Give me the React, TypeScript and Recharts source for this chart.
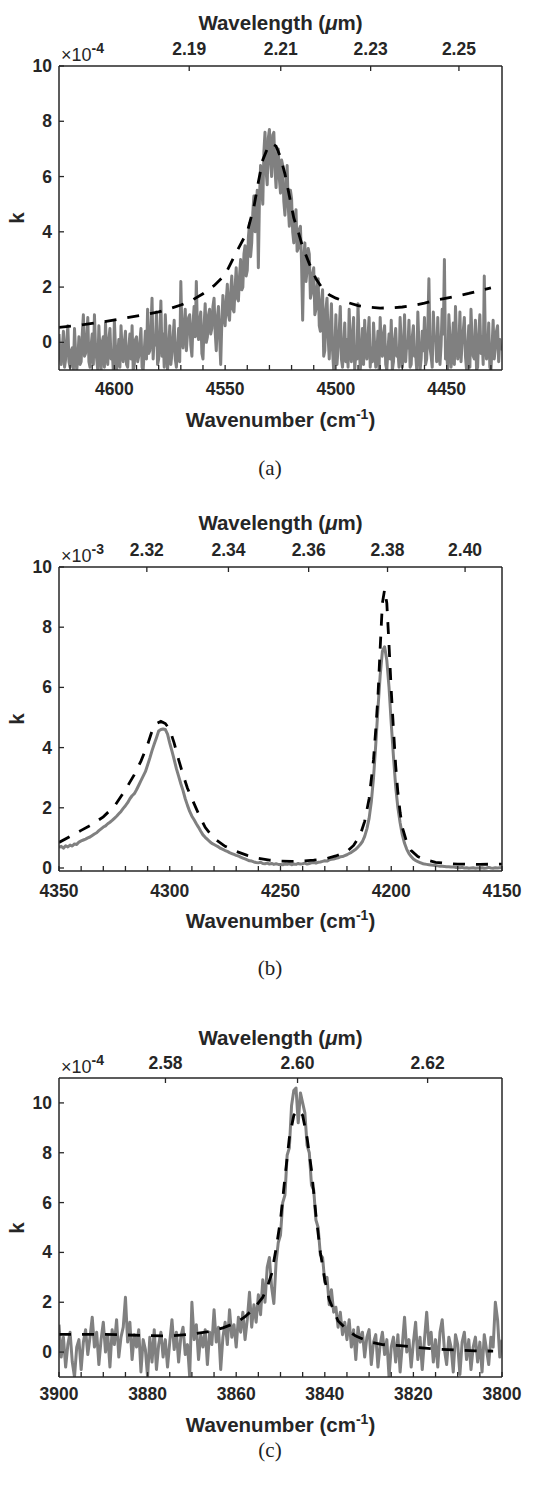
import React from 'react';
import { LineChart, Line, XAxis, YAxis } from 'recharts';

const INK = '#262626';
const GREY = '#808080';
const SANS = '"Liberation Sans", Arial, Helvetica, sans-serif';
const SERIF = '"Liberation Serif", "DejaVu Serif", serif';

// ---------- panel (a): k x 1e-4, measured every 0.5 cm-1 from 4625 down to 4425.5
const aStart = 4625;
const aStep = -0.5;
const aMeasured = [
  // 4625 - 4585.5
  0.3, -0.5, -0.8, -0.2, 0.4, -0.9, -0.6, 0.1, 0.6, -0.7, -0.9, -0.3, -0.2, -1.0, 0.5, -0.4, -1.0, -0.6, 0.2, -0.8,
  -0.7, 0.3, 1.0, -0.5, -0.4, 0.2, 0.9, -0.7, -0.9, -0.1, 0.3, -0.8, 1.0, -0.2, -0.6, -1.0, 0.6, -0.3, -1.0, 0.0,
  0.2, -0.9, 0.7, -0.4, -0.8, 0.1, 0.5, -0.6, -0.3, -1.0, 0.8, -0.2, -1.0, -0.5, 0.1, -0.9, 0.6, -0.3, -0.7, 0.0,
  0.4, -0.8, -0.9, -0.2, 0.3, -0.6, 0.6, -1.0, -0.8, 0.1, 0.2, -0.7, -0.5, 0.0, 0.5, -0.9, -1.0, -0.3, 0.4, -0.6,
  // 4585 - 4572.5
  1.2, -0.4, -0.3, 0.5, 1.6, -0.6, 0.2, -0.1, 1.1, -0.8, -0.6, 0.3, 1.5, -0.5, 0.3, -0.9, 1.0, 0.0, -1.0, -0.4,
  0.6, -0.8, -0.4, 0.2, 0.8, -0.6,
  // 4572 - 4544.5
  -0.9, -0.2, 0.5, -0.7, 2.2, 0.4, -0.2, 0.6, 1.2, -0.3, 0.3, 0.9, 1.0, -0.1, -0.5, 0.7, 1.3, 0.2, 2.2, 0.5,
  0.1, 0.8, 1.1, -0.4, -0.6, 0.6, 1.4, 0.0, 0.2, 1.0, 1.2, 0.3, 0.5, 1.3, 1.6, 0.4, -0.3, 0.9, 1.3, 0.2,
  -0.8, 0.7, 1.7, 0.9, 0.6, 1.5, 2.1, 1.0, 0.8, 1.8, 2.4, 1.2, 1.1, 2.0, 2.7, 1.6,
  // 4544 - 4535.5
  1.5, 2.4, 3.0, 1.9, 2.0, 3.2, 3.5, 2.4, 2.6, 3.8, 4.3, 3.1, 3.6, 4.7, 5.3, 4.0, 4.6, 5.5,
  // 4535 - 4523.5
  2.7, 5.2, 6.4, 5.6, 5.0, 6.9, 7.6, 6.2, 5.7, 7.4, 7.7, 6.5, 6.0, 7.5, 7.6, 6.3, 5.6, 6.8, 7.0, 5.9,
  5.4, 6.6, 6.4, 5.1,
  // 4523 - 4504.5
  4.6, 5.6, 6.4, 4.9, 4.2, 5.5, 5.2, 4.0, 3.6, 4.5, 4.8, 3.3, 3.4, 4.1, 4.2, 2.9, 0.8, 3.0, 3.6, 2.2,
  2.6, 3.4, 3.2, 1.6, 1.8, 2.5, 2.7, 1.0, 1.2, 2.0, 2.3, 0.6, 0.4, 1.5, 1.9, -0.5, -0.3, 1.2,
  // 4504 - 4425.5
  1.6, 0.2, -0.6, 0.5, 1.4, -0.3, -1.0, -0.4, 1.0, -0.8, -0.2, 0.4, 1.3, -0.6, -0.9, -0.1, 0.7, -0.7, 0.1, -0.9,
  1.2, -0.2, -0.7, 0.3, 0.9, -1.0, -0.4, -0.6, 1.4, 0.0, -1.0, -0.5, 0.5, -0.8, 0.8, -0.3, -0.6, 0.2, 0.9, -0.9,
  -0.2, -0.7, 0.7, -0.1, -0.9, -0.4, 0.4, -1.0, 0.9, -0.2, -0.5, 0.3, 0.6, -0.8, -1.0, -0.3, 0.3, -0.6, 0.8, -1.0,
  -0.7, 0.1, 0.5, -0.5, -0.3, -0.9, 0.9, 0.0, -0.9, -0.4, 1.0, -0.7, 0.0, -0.2, 0.8, -0.9, -0.8, 0.2, 0.6, -0.5,
  -0.4, -1.0, 1.1, -0.1, -1.0, -0.6, 0.4, -0.3, 0.9, -0.8, -0.6, 0.5, 2.3, -0.2, -0.5, -0.9, 1.1, 0.1, 0.2, -0.7,
  0.9, -0.4, -0.8, -0.1, 1.2, 0.3, 3.0, -0.6, -0.3, -1.0, 1.0, 0.2, -0.9, -0.4, 0.7, -0.8, 1.3, 0.0, -0.6, -0.3,
  1.1, -0.7, 0.0, 0.4, 0.9, -0.5, -1.0, -0.2, 0.6, -0.9, 1.2, 0.1, -0.5, -0.6, 0.8, -1.0, -0.9, 0.3, 1.0, -0.4,
  0.2, -0.8, 2.4, 0.0, -0.6, -0.3, 0.7, -0.9, -1.0, -0.2, 0.8, -0.6, -0.2, 0.4, 0.6, -0.7, 0.1, -0.3,
];
const aFitWave = [
  4625, 4615, 4605, 4595, 4585, 4580, 4575, 4570, 4565, 4560, 4555, 4550, 4545, 4540, 4537, 4535, 4533, 4531,
  4529, 4527, 4525, 4523, 4521, 4519, 4517, 4515, 4512, 4509, 4506, 4503, 4500, 4495, 4490, 4485, 4480, 4475,
  4470, 4465, 4460, 4455, 4450, 4445, 4440, 4435, 4430,
];
const aFitK = [
  0.54, 0.63, 0.74, 0.88, 1.02, 1.1, 1.22, 1.35, 1.52, 1.76, 2.05, 2.45, 3.25, 4.0, 4.9, 5.8, 6.6, 7.0,
  7.2, 7.1, 6.7, 6.1, 5.3, 4.5, 4.0, 3.45, 2.85, 2.3, 1.95, 1.72, 1.6, 1.45, 1.33, 1.27, 1.24, 1.25,
  1.28, 1.34, 1.42, 1.52, 1.6, 1.68, 1.77, 1.87, 1.97,
];
const aMajor = [4450, 4500, 4550, 4600];
const aMinor = [4430, 4440, 4460, 4470, 4480, 4490, 4510, 4520, 4530, 4540, 4560, 4570, 4580, 4590, 4610, 4620];
const aWavelength = [2.19, 2.21, 2.23, 2.25];

// ---------- panel (b): k x 1e-3, measured every 1 cm-1 from 4350 down to 4150
const bStart = 4350;
const bStep = -1;
const bMeasured = [
  0.68, 0.72, 0.66, 0.74, 0.70, 0.76, 0.73, 0.80, 0.78, 0.86,
  0.90, 0.93, 0.96, 1.00, 1.03, 1.08, 1.13, 1.17, 1.24, 1.30,
  1.36, 1.40, 1.47, 1.52, 1.58, 1.65, 1.72, 1.80, 1.88, 1.98,
  2.07, 2.17, 2.30, 2.40, 2.47, 2.60, 2.75, 2.90, 3.05, 3.20,
  3.42, 3.65, 3.90, 4.12, 4.33, 4.55, 4.60, 4.62, 4.60, 4.45,
  4.15, 3.88, 3.60, 3.30, 3.05, 2.80, 2.57, 2.30, 2.08, 1.88,
  1.72, 1.60, 1.47, 1.35, 1.22, 1.10, 1.02, 0.95, 0.88, 0.82,
  0.78, 0.74, 0.70, 0.65, 0.62, 0.58, 0.55, 0.51, 0.48, 0.45,
  0.42, 0.40, 0.36, 0.33, 0.30, 0.27, 0.24, 0.23, 0.20, 0.18,
  0.17, 0.19, 0.15, 0.14, 0.16, 0.13, 0.15, 0.12, 0.14, 0.12,
  0.12, 0.11, 0.13, 0.12, 0.14, 0.11, 0.13, 0.12, 0.15, 0.13,
  0.14, 0.16, 0.13, 0.15, 0.17, 0.18, 0.16, 0.19, 0.20, 0.22,
  0.24, 0.23, 0.27, 0.29, 0.30, 0.32, 0.34, 0.37, 0.38, 0.41,
  0.44, 0.48, 0.52, 0.57, 0.62, 0.70, 0.78, 0.88, 1.05, 1.30,
  1.65, 2.20, 3.00, 4.10, 5.30, 6.40, 7.20, 7.35, 6.90, 6.00,
  4.80, 3.70, 2.70, 2.00, 1.50, 1.10, 0.82, 0.62, 0.48, 0.38,
  0.30, 0.25, 0.21, 0.18, 0.15, 0.13, 0.12, 0.11, 0.10, 0.09,
  0.08, 0.07, 0.06, 0.06, 0.05, 0.04, 0.04, 0.03, 0.03, 0.02,
  0.02, 0.01, 0.02, 0.00, 0.01, -0.01, 0.00, 0.01, -0.01, 0.00,
  0.00, 0.01, -0.01, 0.00, 0.02, 0.00, -0.01, 0.01, 0.00, 0.01,
  0.02,
];
const bFitWave = [
  4350, 4345, 4340, 4335, 4330, 4325, 4320, 4316, 4313, 4310, 4308, 4306, 4304, 4302, 4300, 4298, 4296, 4294,
  4292, 4290, 4287, 4284, 4280, 4275, 4270, 4265, 4260, 4255, 4250, 4245, 4240, 4235, 4230, 4225, 4220, 4217,
  4214, 4212, 4210, 4208, 4207, 4206, 4205, 4204, 4203, 4202, 4201, 4200, 4199, 4198, 4197, 4196, 4195, 4193,
  4191, 4188, 4185, 4180, 4175, 4170, 4160, 4150,
];
const bFitK = [
  0.85, 1.05, 1.25, 1.45, 1.7, 2.05, 2.6, 3.1, 3.55, 4.1, 4.55, 4.8, 4.87, 4.8, 4.6, 4.15, 3.6, 3.1,
  2.65, 2.3, 1.8, 1.35, 0.98, 0.72, 0.55, 0.42, 0.32, 0.26, 0.23, 0.22, 0.23, 0.26, 0.3, 0.4, 0.55, 0.75,
  1.1, 1.55, 2.3, 3.6, 4.6, 5.7, 7.3, 8.8, 9.25, 8.8, 7.4, 5.9, 4.6, 3.4, 2.5, 1.85, 1.35, 0.85,
  0.58, 0.38, 0.28, 0.19, 0.15, 0.13, 0.12, 0.13,
];
const bMajor = [4150, 4200, 4250, 4300, 4350];
const bMinor = [4160, 4170, 4180, 4190, 4210, 4220, 4230, 4240, 4260, 4270, 4280, 4290, 4310, 4320, 4330, 4340];
const bWavelength = [2.32, 2.34, 2.36, 2.38, 2.4];

// ---------- panel (c): k x 1e-4, measured every 0.5 cm-1 from 3900 down to 3800
const cStart = 3900;
const cStep = -0.5;
const cMeasured = [
  1.1, -0.2, 0.6, -0.6, 0.3, 0.8, -0.4, -1.0, 0.2, 0.5,
  -0.7, 0.4, 0.9, -0.1, 0.6, 1.4, 0.2, 0.8, -0.5, 0.5,
  1.2, 0.0, 0.7, -0.6, 0.9, 0.3, 1.3, -0.2, 0.6, 1.0,
  2.2, 0.4, 1.2, -0.3, 0.7, 0.2, 0.9, -0.8, 0.5, 0.1,
  -1.0, 0.6, -0.4, 0.9, -0.7, 0.3, 0.8, -0.2, 0.5, -0.6,
  0.4, 1.3, 0.1, 0.8, -0.4, 0.6, 1.0, -0.1, 0.3, -1.0,
  2.0, 0.5, 1.1, -0.3, 0.7, 0.2, 0.9, -0.5, 0.8, 0.3,
  1.7, 0.4, 1.0, -0.7, 0.6, 1.2, 0.3, 1.7, 0.6, 1.1,
  0.2, 1.4, 0.8, 1.6, 0.5, 1.3, 2.4, 1.0, 1.9, 1.2,
  2.3, 1.5, 2.9, 2.0, 3.4, 3.8, 2.6, 1.95, 3.6, 4.4,
  4.7, 6.0, 6.3, 7.9, 8.2, 9.9, 10.5, 10.6, 9.2, 10.4,
  10.0, 9.6, 8.3, 8.0, 6.7, 6.5, 5.3, 5.0, 3.9, 3.8,
  2.8, 3.0, 1.9, 2.5, 1.6, 1.8, 1.0, 1.6, 0.7, 1.2,
  0.5, 1.3, 0.2, 0.9, -0.3, 1.0, 0.4, 0.8, -0.2, 0.6,
  0.9, -0.5, 0.4, 0.7, -0.6, 0.3, 0.8, -0.1, 0.5, -1.0,
  0.2, 0.6, -0.4, 0.7, -0.8, 0.3, 1.4, 0.0, 0.5, -0.6,
  0.4, 1.2, -0.3, 0.6, -0.7, 0.5, 1.6, 0.3, 0.8, -0.4,
  0.5, -0.6, 0.8, 1.3, 0.1, -0.5, 0.6, 0.2, -0.8, 0.7,
  0.3, -0.9, 0.4, 0.8, -0.3, 0.5, -0.7, 0.2, 0.6, -0.4,
  0.4, -0.8, 0.7, 0.1, -0.5, 0.6, 0.2, 2.0, 1.3, -0.2,
  0.5,
];
const cFitWave = [
  3900, 3895, 3890, 3885, 3880, 3875, 3870, 3866, 3863, 3860, 3858, 3856, 3854, 3853, 3852, 3851, 3850, 3849,
  3848, 3847, 3846, 3845, 3844, 3843, 3842, 3841, 3840, 3839, 3837, 3835, 3833, 3830, 3827, 3823, 3819, 3815,
  3810, 3806, 3802,
];
const cFitK = [
  0.71, 0.71, 0.71, 0.69, 0.66, 0.65, 0.72, 0.83, 0.97, 1.18, 1.42, 1.75, 2.2, 2.6, 3.15, 4.15, 5.3, 7.0,
  8.6, 9.5, 9.73, 9.5, 8.6, 7.3, 5.5, 4.0, 2.9, 2.1, 1.25, 0.9, 0.64, 0.42, 0.3, 0.26, 0.18, 0.12,
  0.08, 0.05, 0.04,
];
const cMajor = [3800, 3820, 3840, 3860, 3880, 3900];
const cMinor = [3805, 3810, 3815, 3825, 3830, 3835, 3845, 3850, 3855, 3865, 3870, 3875, 3885, 3890, 3895];
const cWavelength = [2.58, 2.6, 2.62];

const kTicks = [0, 2, 4, 6, 8, 10];

type Pt = { x: number; k: number };
const sampled = (start: number, step: number, values: number[]): Pt[] =>
  values.map((k, i) => ({ x: +(start + i * step).toFixed(2), k }));
const paired = (xs: number[], ks: number[]): Pt[] => xs.map((x, i) => ({ x, k: ks[i] }));

const W = 537;
const LEFT = 59;
const RIGHT = 502;
const TOP_M = 66;
const BOT_M = 80;
const TICK = 5;

const tickText = {
  fontFamily: SANS,
  fontWeight: 700,
  fontSize: 17.5,
  fill: INK,
} as const;

const BottomTick = ({ x, y, payload, major, gap }: any) => {
  const isMajor = major.includes(payload.value);
  return (
    <g>
      <line x1={x} x2={x} y1={y} y2={y - TICK} stroke={INK} strokeWidth={1.3} />
      {isMajor && (
        <text x={x} y={y + gap} textAnchor="middle" dominantBaseline="central" {...tickText}>
          {payload.value}
        </text>
      )}
    </g>
  );
};

const TopTick = ({ x, y, payload, gap }: any) => (
  <g>
    <line x1={x} x2={x} y1={y} y2={y + TICK} stroke={INK} strokeWidth={1.3} />
    <text x={x} y={y - gap} textAnchor="middle" dominantBaseline="central" {...tickText}>
      {(10000 / payload.value).toFixed(2)}
    </text>
  </g>
);

const LeftTick = ({ x, y, payload }: any) => (
  <g>
    <line x1={x} x2={x + TICK} y1={y} y2={y} stroke={INK} strokeWidth={1.3} />
    <text x={x - 7} y={y} textAnchor="end" dominantBaseline="central" {...tickText}>
      {payload.value}
    </text>
  </g>
);

type PanelProps = {
  plotTop: number;
  plotHeight: number;
  xDomain: [number, number];
  yDomain: [number, number];
  major: number[];
  minor: number[];
  wavelength: number[];
  exponent: string;
  measured: Pt[];
  fit: Pt[];
  caption: string;
  topGap: number;
  bottomGap: number;
  titleGap: number;
  xTitleGap: number;
  captionGap: number;
};

const centered = (x: number, y: number): React.CSSProperties => ({
  position: 'absolute',
  left: x,
  top: y,
  transform: 'translate(-50%, -50%)',
  whiteSpace: 'nowrap',
  lineHeight: 1,
  color: INK,
});

function Panel(p: PanelProps) {
  const h = TOP_M + p.plotHeight + BOT_M;
  const plotBottom = p.plotTop + p.plotHeight;
  const mid = (LEFT + RIGHT) / 2;
  const bottomTicks = [...p.major, ...p.minor].sort((a, b) => a - b);
  const topTicks = p.wavelength.map((l) => 10000 / l);
  const axisLine = { stroke: INK, strokeWidth: 1.5 };
  const title = { fontFamily: SANS, fontWeight: 700, fontSize: 20.5 };

  return (
    <>
      <div style={{ position: 'absolute', left: 0, top: p.plotTop - TOP_M }}>
        <LineChart width={W} height={h} margin={{ top: TOP_M - 30, right: W - RIGHT - 1, bottom: BOT_M - 30, left: 0 }}>
          <XAxis
            xAxisId="b"
            dataKey="x"
            type="number"
            domain={p.xDomain}
            reversed
            allowDataOverflow
            ticks={bottomTicks}
            interval={0}
            height={30}
            tickSize={0}
            tickMargin={0}
            tickLine={false}
            axisLine={axisLine}
            tick={(t: any) => <BottomTick {...t} major={p.major} gap={p.bottomGap} />}
          />
          <XAxis
            xAxisId="t"
            orientation="top"
            dataKey="x"
            type="number"
            domain={p.xDomain}
            reversed
            allowDataOverflow
            ticks={topTicks}
            interval={0}
            height={30}
            tickSize={0}
            tickMargin={0}
            tickLine={false}
            axisLine={axisLine}
            tick={(t: any) => <TopTick {...t} gap={p.topGap} />}
          />
          <YAxis
            yAxisId="l"
            type="number"
            domain={p.yDomain}
            allowDataOverflow
            ticks={kTicks}
            interval={0}
            width={LEFT}
            tickSize={0}
            tickMargin={0}
            tickLine={false}
            axisLine={axisLine}
            tick={(t: any) => <LeftTick {...t} />}
          />
          <YAxis
            yAxisId="r"
            orientation="right"
            type="number"
            domain={p.yDomain}
            allowDataOverflow
            width={1}
            tick={false}
            tickLine={false}
            axisLine={axisLine}
          />
          <Line
            xAxisId="b"
            yAxisId="l"
            data={p.measured}
            dataKey="k"
            stroke={GREY}
            strokeWidth={3}
            strokeLinejoin="round"
            dot={false}
            isAnimationActive={false}
          />
          <Line
            xAxisId="b"
            yAxisId="l"
            data={p.fit}
            dataKey="k"
            stroke="#000"
            strokeWidth={2.8}
            strokeDasharray="12 11"
            dot={false}
            isAnimationActive={false}
          />
        </LineChart>
      </div>

      <div style={{ ...centered(mid, p.plotTop - p.titleGap), ...title }}>
        Wavelength (<span style={{ fontStyle: 'italic' }}>μ</span>m)
      </div>
      <div
        style={{
          position: 'absolute',
          left: 61,
          top: p.plotTop - 20,
          lineHeight: 1,
          color: INK,
          fontFamily: SANS,
          fontSize: 18,
          whiteSpace: 'nowrap',
        }}
      >
        ×10
        <span style={{ fontSize: 14, fontWeight: 700, position: 'relative', top: -8 }}>{p.exponent}</span>
      </div>
      <div style={{ ...centered(17, p.plotTop + p.plotHeight / 2), ...title, transform: 'translate(-50%, -50%) rotate(-90deg)' }}>
        k
      </div>
      <div style={{ ...centered(mid, plotBottom + p.xTitleGap), ...title }}>
        Wavenumber (cm<span style={{ fontSize: 14, position: 'relative', top: -8 }}>-1</span>)
      </div>
      <div style={{ ...centered(270, plotBottom + p.captionGap), fontFamily: SERIF, fontSize: 21, color: '#222' }}>
        {p.caption}
      </div>
    </>
  );
}

export default function App() {
  return (
    <div style={{ position: 'absolute', left: 0, top: 0, width: W, height: 1497, background: '#fff', overflow: 'hidden' }}>
      <Panel
        plotTop={66}
        plotHeight={304}
        xDomain={[4425, 4625]}
        yDomain={[-1, 10]}
        major={aMajor}
        minor={aMinor}
        wavelength={aWavelength}
        exponent="-4"
        measured={sampled(aStart, aStep, aMeasured)}
        fit={paired(aFitWave, aFitK)}
        caption="(a)"
        topGap={17}
        bottomGap={19}
        titleGap={43}
        xTitleGap={50}
        captionGap={98}
      />
      <Panel
        plotTop={567}
        plotHeight={304}
        xDomain={[4150, 4350]}
        yDomain={[-0.1, 10]}
        major={bMajor}
        minor={bMinor}
        wavelength={bWavelength}
        exponent="-3"
        measured={sampled(bStart, bStep, bMeasured)}
        fit={paired(bFitWave, bFitK)}
        caption="(b)"
        topGap={17}
        bottomGap={20}
        titleGap={44}
        xTitleGap={50}
        captionGap={97}
      />
      <Panel
        plotTop={1078}
        plotHeight={299}
        xDomain={[3800, 3900]}
        yDomain={[-1, 11]}
        major={cMajor}
        minor={cMinor}
        wavelength={cWavelength}
        exponent="-4"
        measured={sampled(cStart, cStep, cMeasured)}
        fit={paired(cFitWave, cFitK)}
        caption="(c)"
        topGap={15}
        bottomGap={17}
        titleGap={40}
        xTitleGap={48}
        captionGap={73}
      />
    </div>
  );
}
